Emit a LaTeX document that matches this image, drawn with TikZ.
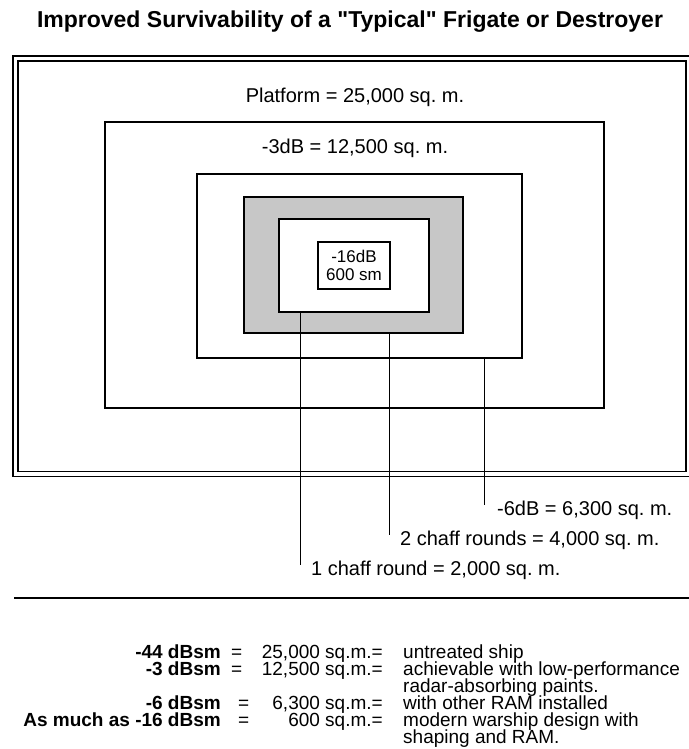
\documentclass[tikz,border=0pt]{standalone}
\usepackage{fontspec}
\setmainfont{Liberation Sans}
\newfontfamily\titlefont{Liberation Sans}[Mapping=]
\usetikzlibrary{positioning}
\frenchspacing

\begin{document}
\begin{tikzpicture}[x=1pt,y=-1pt,
    zone/.style={draw,line width=1.7pt,inner sep=0pt},
    lbl/.style={font=\fontsize{20}{18}\selectfont,inner sep=0pt},
    key/.style={font=\bfseries\fontsize{19}{17}\selectfont,inner sep=0pt,anchor=base east,
                text height=12pt,text depth=3pt},
    cell/.style={font=\fontsize{19}{17}\selectfont,inner sep=0pt,text height=12pt,text depth=3pt},
    leader/.style={line width=1pt}]
    \useasboundingbox (0,0) rectangle (688,749);
    \node[font=\titlefont\bfseries\fontsize{23}{26}\selectfont,inner sep=0pt] (title) at (350,22)
        {Improved Survivability of a "Typical" Frigate or Destroyer};
    % nested signature areas
    \node[draw,double,line width=1.5pt,double distance=3.5pt,minimum width=673,minimum height=415.5,inner sep=0pt]
        (hull) at (352,266.25) {};
    \node[lbl] (platform) at (355,97) {Platform = 25,000 sq. m.};
    \node[zone,minimum width=499,minimum height=286] (paint) at (354.5,265) {};
    \node[lbl] (paintlbl) at (355,148) {-3dB = 12,500 sq. m.};
    \node[zone,minimum width=325,minimum height=184] (ram) at (359.5,266) {};
    \node[zone,fill=black!22,minimum width=219,minimum height=136] (chafftwo) at (353.5,265) {};
    \node[zone,fill=white,minimum width=150,minimum height=93] (chaffone) at (354,265.5) {};
    \node[zone,fill=white,minimum width=72,minimum height=47,align=center,
          font=\fontsize{17}{18}\selectfont] (core) at (354,265.5) {-16dB\\600 sm};
    % leaders
    \coordinate (endram) at (484,505);
    \coordinate (endtwo) at (389,535);
    \coordinate (endone) at (300,565);
    \draw[leader] (endram |- ram.south) -- (endram);
    \draw[leader] (endtwo |- chafftwo.south) -- (endtwo);
    \draw[leader] (endone |- chaffone.south) -- (endone);
    \node[lbl,anchor=west] (ramlbl) at ([xshift=13pt,yshift=-5pt]endram) {-6dB = 6,300 sq. m.};
    \node[lbl,anchor=west] (twolbl) at ([xshift=11pt,yshift=-5pt]endtwo) {2 chaff rounds = 4,000 sq. m.};
    \node[lbl,anchor=west] (onelbl) at ([xshift=11pt,yshift=-5pt]endone) {1 chaff round = 2,000 sq. m.};
    \coordinate (rulel) at (14,598);
    \coordinate (ruler) at (690,598);
    \draw[line width=2.2pt] (rulel) -- (ruler);
    % table
    \node[key] (k1) at (221,658) {-44 dBsm};
    \node[key] (k2) at (221,675) {-3 dBsm};
    \node[key] (k3) at (221,709) {-6 dBsm};
    \node[key] (k4) at (221,726) {As much as -16 dBsm};
    \node[cell,anchor=base west] (e1) at (231,658) {=};
    \node[cell,anchor=base west] (e2) at (231,675) {=};
    \node[cell,anchor=base west] (e3) at (238,709) {=};
    \node[cell,anchor=base west] (e4) at (238,726) {=};
    \node[cell,anchor=base east] (v1) at (383,658) {25,000 sq.m.=};
    \node[cell,anchor=base east] (v2) at (383,675) {12,500 sq.m.=};
    \node[cell,anchor=base east] (v3) at (383,709) {6,300 sq.m.=};
    \node[cell,anchor=base east] (v4) at (383,726) {600 sq.m.=};
    \node[cell,anchor=base west] (d1) at (403,658) {untreated ship};
    \node[cell,anchor=base west] (d2) at (403,675) {achievable with low-performance};
    \node[cell,anchor=base west] (d2b) at (403,692) {radar-absorbing paints.};
    \node[cell,anchor=base west] (d3) at (403,709) {with other RAM installed};
    \node[cell,anchor=base west] (d4) at (403,726) {modern warship design with};
    \node[cell,anchor=base west] (d4b) at (403,743) {shaping and RAM.};
\end{tikzpicture}
\end{document}
